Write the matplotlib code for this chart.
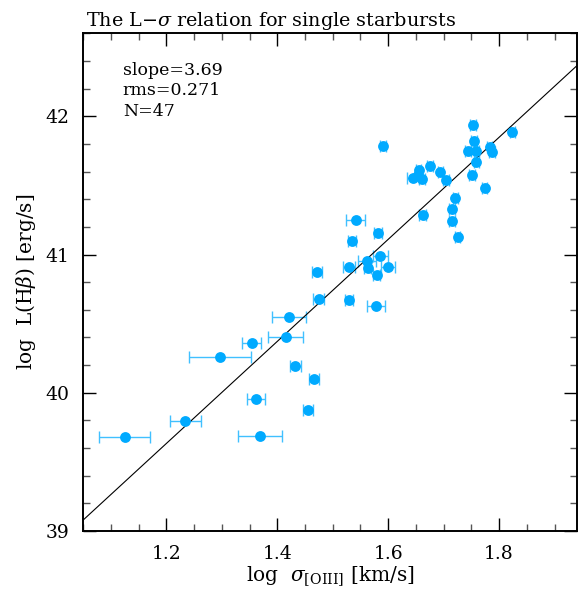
import numpy as np
import matplotlib
matplotlib.use("Agg")
import matplotlib.pyplot as plt
from matplotlib.ticker import MultipleLocator

# log sigma[OIII], its error, log L(Hbeta)
log_sigma = [1.125, 1.234, 1.296, 1.354, 1.361, 1.369, 1.415, 1.421, 1.432, 1.467,
             1.456, 1.475, 1.471, 1.529, 1.578, 1.529, 1.535, 1.541, 1.562, 1.563,
             1.579, 1.586, 1.600, 1.582, 1.662, 1.591, 1.753, 1.824, 1.755, 1.744,
             1.759, 1.783, 1.787, 1.759, 1.675, 1.655, 1.653, 1.645, 1.661, 1.694,
             1.704, 1.751, 1.774, 1.721, 1.715, 1.715, 1.725]
sigma_err = [0.046, 0.028, 0.056, 0.017, 0.016, 0.040, 0.032, 0.031, 0.010, 0.009,
             0.009, 0.010, 0.009, 0.007, 0.016, 0.011, 0.007, 0.018, 0.016, 0.006,
             0.006, 0.014, 0.013, 0.007, 0.006, 0.005, 0.005, 0.005, 0.005, 0.005,
             0.005, 0.005, 0.005, 0.005, 0.005, 0.005, 0.005, 0.011, 0.005, 0.005,
             0.005, 0.005, 0.005, 0.005, 0.005, 0.005, 0.005]
log_LHb = [39.679, 39.797, 40.258, 40.359, 39.958, 39.688, 40.400, 40.547, 40.197, 40.098,
           39.876, 40.680, 40.870, 40.671, 40.629, 40.912, 41.100, 41.252, 40.955, 40.902,
           40.852, 40.986, 40.912, 41.153, 41.283, 41.783, 41.935, 41.884, 41.824, 41.752,
           41.752, 41.778, 41.739, 41.672, 41.643, 41.614, 41.578, 41.554, 41.549, 41.594,
           41.542, 41.573, 41.482, 41.409, 41.332, 41.240, 41.124]

slope = 3.69
intercept = 35.206
rms = 0.271

plt.rcParams['font.family'] = ['DejaVu Serif']
plt.rcParams['mathtext.fontset'] = 'dejavuserif'

fig = plt.figure(figsize=(5.83, 5.92), dpi=100)
ax = fig.add_axes([0.1429, 0.1030, 0.8463, 0.8407])

blue = '#00aaff'
ax.errorbar(log_sigma, log_LHb, xerr=sigma_err, fmt='none',
            ecolor='#40c0ff', elinewidth=1.0, capsize=4, capthick=1.0, zorder=2)
ax.plot(log_sigma, log_LHb, 'o', color=blue, markersize=7.8,
        markeredgewidth=0, zorder=3)

xx = np.array([1.0, 2.0])
ax.plot(xx, slope * xx + intercept, color='black', lw=0.8, zorder=2)

ax.set_xlim(1.05, 1.94)
ax.set_ylim(39.0, 42.6)
ax.xaxis.set_major_locator(MultipleLocator(0.2))
ax.xaxis.set_minor_locator(MultipleLocator(0.05))
ax.yaxis.set_major_locator(MultipleLocator(1))
ax.yaxis.set_minor_locator(MultipleLocator(0.2))
ax.set_xticks([1.2, 1.4, 1.6, 1.8])
ax.set_xticklabels(['1.2', '1.4', '1.6', '1.8'])
ax.set_yticks([39, 40, 41, 42])
ax.set_yticklabels(['39', '40', '41', '42'])

ax.tick_params(which='both', direction='in', top=True, right=True,
               labelsize=13.5, width=1.0)
ax.tick_params(which='major', length=9.5, pad=10, color='black')
ax.tick_params(which='minor', length=5, color='#555555')
for s in ax.spines.values():
    s.set_linewidth(1.4)

ax.set_xlabel(r'log  $\sigma_{\rm [OIII]}$ [km/s]', fontsize=14.5, labelpad=1)
ax.set_ylabel(r'log  L(H$\beta$) [erg/s]', fontsize=14.5, labelpad=5)

ax.text(0.08, 0.926, 'slope=%.2f' % slope, transform=ax.transAxes, fontsize=12.5,
        va='center')
ax.text(0.08, 0.886, 'rms=%.3f' % rms, transform=ax.transAxes, fontsize=12.5,
        va='center')
ax.text(0.08, 0.8425, 'N=%d' % len(log_sigma), transform=ax.transAxes, fontsize=12.5,
        va='center')

fig.text(0.148, 0.965, r'The L$-\sigma$ relation for single starbursts',
         fontsize=13.8, va='center', ha='left')

fig.savefig('out.png', dpi=100)
